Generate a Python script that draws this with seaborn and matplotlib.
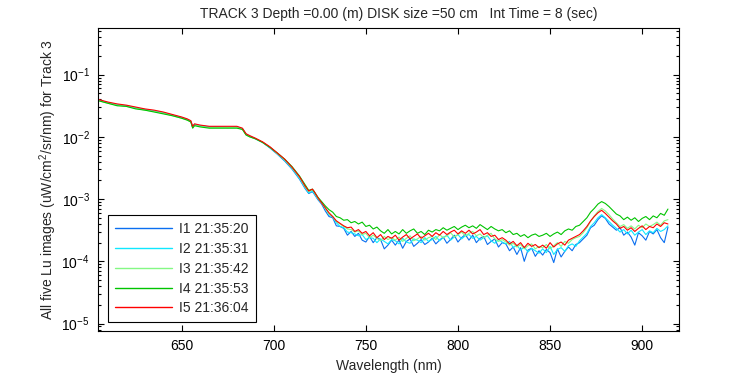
import numpy as np
import pandas as pd
import seaborn as sns
import matplotlib.pyplot as plt
from matplotlib.lines import Line2D
from matplotlib.ticker import LogLocator, LogFormatterMathtext, NullFormatter, FixedLocator

# wavelengths (nm): smooth part read point by point, noisy part every 2 nm
wl_smooth = [605, 610, 615, 620, 625, 630, 635, 640, 645, 650, 653, 655, 656, 657,
             660, 665, 670, 675, 680, 683, 685, 687, 690, 694, 698, 702, 706, 710,
             714, 717, 719, 721, 722, 724]
wl_noisy = list(range(726, 915, 2))
wavelength = wl_smooth + wl_noisy

# log10 of Lu (uW/cm^2/sr/nm)
i1_smooth = [-1.41, -1.45, -1.49, -1.50, -1.54, -1.56, -1.59, -1.62, -1.65, -1.69, -1.72, -1.75,
             -1.85, -1.80, -1.82, -1.84, -1.84, -1.85, -1.84, -1.87, -1.96, -1.99, -2.03, -2.09,
             -2.18, -2.28, -2.39, -2.52, -2.68, -2.83, -2.91, -2.88, -2.92, -3.01]
i1_noisy = [-3.08, -3.19, -3.28, -3.30, -3.43, -3.44, -3.47, -3.58, -3.52, -3.60,
            -3.55, -3.66, -3.69, -3.60, -3.70, -3.62, -3.65, -3.80, -3.74, -3.66,
            -3.74, -3.66, -3.79, -3.68, -3.64, -3.76, -3.71, -3.65, -3.73, -3.69,
            -3.63, -3.72, -3.66, -3.61, -3.71, -3.65, -3.58, -3.69, -3.62, -3.57,
            -3.66, -3.58, -3.70, -3.63, -3.60, -3.73, -3.68, -3.64, -3.77, -3.70,
            -3.72, -3.83, -3.77, -3.89, -3.78, -4.00, -3.82, -3.79, -3.92, -3.83,
            -3.90, -3.81, -3.86, -4.02, -3.80, -3.93, -3.84, -3.77, -3.83, -3.73,
            -3.70, -3.64, -3.58, -3.46, -3.42, -3.33, -3.27, -3.31, -3.40, -3.45,
            -3.50, -3.46, -3.58, -3.53, -3.61, -3.74, -3.54, -3.59, -3.66, -3.52,
            -3.56, -3.49, -3.62, -3.70, -3.45]

i2_smooth = [-1.41, -1.45, -1.48, -1.50, -1.53, -1.56, -1.58, -1.61, -1.65, -1.69, -1.72, -1.75,
             -1.84, -1.80, -1.82, -1.84, -1.84, -1.84, -1.84, -1.87, -1.96, -1.99, -2.03, -2.09,
             -2.17, -2.27, -2.38, -2.51, -2.67, -2.82, -2.90, -2.87, -2.91, -3.00]
i2_noisy = [-3.06, -3.15, -3.25, -3.29, -3.38, -3.44, -3.46, -3.53, -3.54, -3.56,
            -3.59, -3.57, -3.65, -3.62, -3.63, -3.70, -3.64, -3.68, -3.72, -3.65,
            -3.67, -3.72, -3.63, -3.69, -3.71, -3.64, -3.66, -3.70, -3.62, -3.68,
            -3.65, -3.60, -3.67, -3.62, -3.58, -3.66, -3.61, -3.57, -3.64, -3.59,
            -3.57, -3.63, -3.60, -3.66, -3.62, -3.59, -3.67, -3.71, -3.65, -3.69,
            -3.72, -3.68, -3.78, -3.74, -3.82, -3.77, -3.85, -3.79, -3.83, -3.87,
            -3.80, -3.86, -3.76, -3.89, -3.81, -3.78, -3.84, -3.75, -3.72, -3.76,
            -3.67, -3.61, -3.55, -3.44, -3.38, -3.30, -3.25, -3.30, -3.36, -3.42,
            -3.47, -3.53, -3.49, -3.56, -3.50, -3.58, -3.53, -3.49, -3.57, -3.51,
            -3.54, -3.47, -3.52, -3.49, -3.43]

i3_smooth = [-1.42, -1.46, -1.49, -1.51, -1.54, -1.57, -1.59, -1.62, -1.66, -1.70, -1.73, -1.76,
             -1.85, -1.81, -1.83, -1.85, -1.85, -1.85, -1.85, -1.88, -1.97, -2.00, -2.03, -2.09,
             -2.17, -2.27, -2.37, -2.50, -2.65, -2.80, -2.88, -2.85, -2.89, -2.99]
i3_noisy = [-3.06, -3.15, -3.24, -3.28, -3.36, -3.40, -3.44, -3.48, -3.49, -3.53,
            -3.51, -3.57, -3.55, -3.62, -3.58, -3.63, -3.67, -3.60, -3.65, -3.62,
            -3.66, -3.61, -3.68, -3.63, -3.59, -3.67, -3.64, -3.60, -3.66, -3.62,
            -3.60, -3.65, -3.57, -3.62, -3.59, -3.54, -3.61, -3.57, -3.53, -3.59,
            -3.55, -3.52, -3.59, -3.56, -3.62, -3.58, -3.55, -3.64, -3.68, -3.65,
            -3.69, -3.74, -3.71, -3.77, -3.73, -3.80, -3.75, -3.72, -3.80, -3.76,
            -3.78, -3.73, -3.80, -3.75, -3.70, -3.76, -3.68, -3.71, -3.65, -3.62,
            -3.60, -3.54, -3.46, -3.36, -3.27, -3.20, -3.15, -3.19, -3.25, -3.32,
            -3.38, -3.44, -3.41, -3.47, -3.43, -3.48, -3.42, -3.46, -3.40, -3.44,
            -3.41, -3.37, -3.42, -3.35, -3.33]

i4_smooth = [-1.42, -1.46, -1.50, -1.51, -1.55, -1.57, -1.60, -1.63, -1.66, -1.70, -1.73, -1.76,
             -1.86, -1.82, -1.84, -1.86, -1.86, -1.86, -1.86, -1.88, -1.97, -2.00, -2.03, -2.09,
             -2.17, -2.26, -2.36, -2.48, -2.63, -2.77, -2.86, -2.84, -2.88, -2.97]
i4_noisy = [-3.04, -3.11, -3.17, -3.21, -3.28, -3.30, -3.34, -3.33, -3.38, -3.36,
            -3.40, -3.37, -3.44, -3.42, -3.48, -3.45, -3.51, -3.55, -3.49, -3.56,
            -3.52, -3.56, -3.49, -3.55, -3.51, -3.48, -3.55, -3.52, -3.57, -3.50,
            -3.53, -3.49, -3.51, -3.46, -3.50, -3.47, -3.44, -3.49, -3.45, -3.42,
            -3.46, -3.43, -3.47, -3.41, -3.45, -3.49, -3.44, -3.48, -3.51, -3.49,
            -3.54, -3.51, -3.57, -3.55, -3.60, -3.57, -3.62, -3.58, -3.56, -3.60,
            -3.58, -3.55, -3.60, -3.56, -3.53, -3.57, -3.51, -3.48, -3.50, -3.44,
            -3.42, -3.36, -3.30, -3.21, -3.15, -3.08, -3.04, -3.07, -3.12, -3.18,
            -3.24, -3.27, -3.33, -3.29, -3.34, -3.30, -3.36, -3.31, -3.28, -3.33,
            -3.27, -3.30, -3.23, -3.26, -3.16]

i5_smooth = [-1.40, -1.44, -1.47, -1.49, -1.52, -1.55, -1.57, -1.60, -1.64, -1.68, -1.71, -1.74,
             -1.83, -1.79, -1.81, -1.83, -1.83, -1.83, -1.83, -1.86, -1.95, -1.98, -2.02, -2.08,
             -2.16, -2.26, -2.36, -2.49, -2.64, -2.79, -2.87, -2.84, -2.88, -2.98]
i5_noisy = [-3.06, -3.14, -3.22, -3.28, -3.35, -3.39, -3.43, -3.46, -3.45, -3.52,
            -3.49, -3.55, -3.52, -3.59, -3.54, -3.62, -3.57, -3.65, -3.60, -3.63,
            -3.58, -3.66, -3.61, -3.57, -3.64, -3.60, -3.56, -3.63, -3.59, -3.55,
            -3.60, -3.54, -3.58, -3.52, -3.57, -3.53, -3.50, -3.56, -3.51, -3.55,
            -3.50, -3.56, -3.53, -3.49, -3.57, -3.54, -3.60, -3.58, -3.65, -3.62,
            -3.66, -3.72, -3.68, -3.75, -3.70, -3.78, -3.71, -3.76, -3.73, -3.78,
            -3.74, -3.79, -3.70, -3.77, -3.72, -3.69, -3.74, -3.66, -3.63, -3.60,
            -3.57, -3.51, -3.44, -3.35, -3.28, -3.22, -3.18, -3.23, -3.29, -3.35,
            -3.40, -3.47, -3.44, -3.50, -3.46, -3.52, -3.47, -3.43, -3.49, -3.44,
            -3.46, -3.40, -3.44, -3.38, -3.40]

labels = ["I1 21:35:20", "I2 21:35:31", "I3 21:35:42", "I4 21:35:53", "I5 21:36:04"]
colors = ["#0a6ff0", "#10e8ff", "#84f884", "#00c400", "#ff0000"]

series = [i1_smooth + i1_noisy, i2_smooth + i2_noisy, i3_smooth + i3_noisy,
          i4_smooth + i4_noisy, i5_smooth + i5_noisy]
frames = []
for lab, vals in zip(labels, series):
    frames.append(pd.DataFrame({"wl": wavelength, "lu": 10 ** np.array(vals), "image": lab}))
df = pd.concat(frames, ignore_index=True)

sns.set_style("ticks")
plt.rcParams['font.family'] = ['Liberation Sans', 'DejaVu Sans']
plt.rcParams['mathtext.default'] = 'regular'
fs = 10

fig = plt.figure(figsize=(7.5, 3.75), dpi=100)
ax = fig.add_axes([98 / 750, 1 - 331 / 375, 581 / 750, 303 / 375])

sns.lineplot(data=df, x="wl", y="lu", hue="image", hue_order=labels, palette=colors,
             estimator=None, sort=False, linewidth=0.8, legend=False, ax=ax)

ax.set_yscale("log")
ax.set_xlim(604.6, 920)
ax.set_ylim(10 ** -5.12, 10 ** -0.25)
ax.xaxis.set_major_locator(FixedLocator([650, 700, 750, 800, 850, 900]))
ax.yaxis.set_major_locator(LogLocator(base=10))
ax.yaxis.set_major_formatter(LogFormatterMathtext())
ax.yaxis.set_minor_locator(LogLocator(base=10, subs=np.arange(2, 10)))
ax.yaxis.set_minor_formatter(NullFormatter())

ax.tick_params(which="both", direction="in", top=True, right=True, colors="black",
               labelsize=fs, width=0.8)
ax.tick_params(which="major", length=4.5)
ax.tick_params(which="minor", length=2.5)
ax.tick_params(axis="x", pad=6)
ax.tick_params(axis="y", pad=6)
for sp in ax.spines.values():
    sp.set_linewidth(0.8)
    sp.set_color("black")

ax.set_xlabel("Wavelength (nm)", fontsize=fs, labelpad=4)
ax.set_ylabel("All five Lu images (uW/cm$^2$/sr/nm) for Track 3", fontsize=fs, labelpad=2)
ax.set_title("TRACK 3 Depth =0.00 (m) DISK size =50 cm   Int Time = 8 (sec)",
             fontsize=fs, x=0.517, pad=7)

handles = [Line2D([0], [0], color=c, linewidth=1.0) for c in colors]
leg = ax.legend(handles=handles, labels=labels, loc="lower left",
                bbox_to_anchor=(0.0177, 0.0287), borderaxespad=0, fancybox=False,
                edgecolor="black", framealpha=1, fontsize=fs, handlelength=4.1,
                handletextpad=0.5, labelspacing=0.42, borderpad=0.5)
leg.get_frame().set_linewidth(0.8)

fig.savefig("out.png", dpi=100, facecolor="white")
